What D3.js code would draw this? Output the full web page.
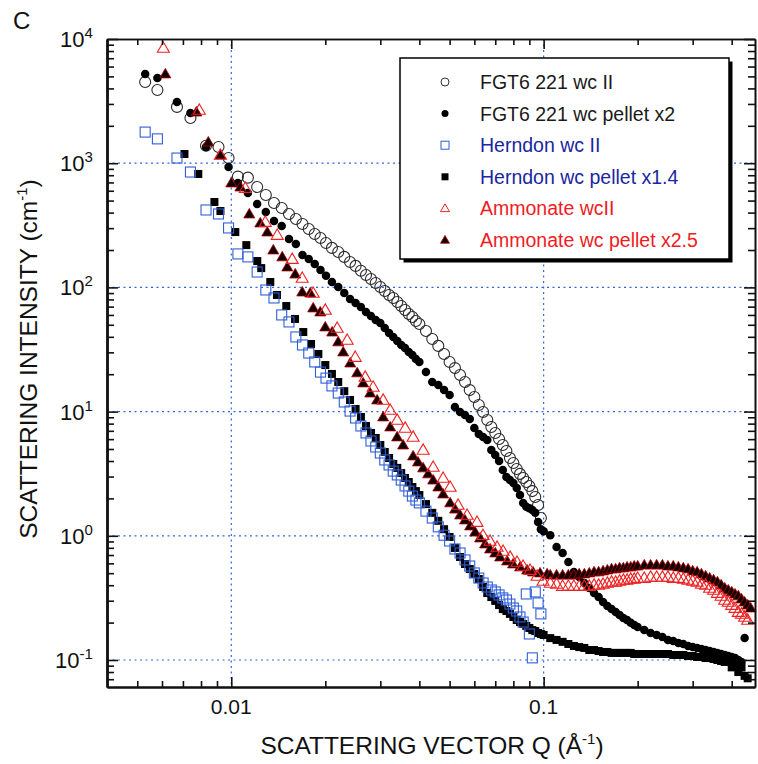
<!DOCTYPE html>
<html><head><meta charset="utf-8">
<script src="https://cdn.jsdelivr.net/npm/d3@7"></script>
<style>body{margin:0;background:#fff}svg{display:block}</style>
</head><body>
<svg id="chart" width="758" height="764"></svg>
<script>
// ---- DATA: [Q (1/Å), intensity (1/cm)] ----
const fgtWcII = [[0.0053,4500],[0.0058,3890],[0.0067,2840],[0.0074,2310],[0.0083,1380],[0.0091,1350],[0.0098,1100],[0.0105,780],[0.0113,765],[0.0121,643],[0.0129,555],[0.0137,478],[0.0145,436],[0.0153,390],[0.0161,355],[0.0169,324],[0.0177,295],[0.0185,269],[0.0193,250],[0.0201,228],[0.021,208],[0.022,193],[0.023,176],[0.024,160],[0.025,149],[0.026,136],[0.027,126],[0.028,117],[0.029,108.5],[0.030,100.7],[0.031,93.5],[0.032,86.9],[0.033,82.2],[0.034,76.3],[0.035,70.8],[0.036,65.8],[0.037,61.1],[0.038,57.8],[0.039,53.6],[0.040,50.7],[0.042,44.6],[0.044,38.4],[0.046,33.8],[0.048,29.1],[0.050,25.1],[0.052,22.4],[0.054,19.7],[0.056,17.3],[0.058,14.9],[0.060,13.1],[0.062,11.3],[0.064,9.93],[0.066,8.56],[0.068,7.52],[0.070,6.73],[0.072,6.02],[0.074,5.38],[0.076,4.82],[0.078,4.23],[0.080,3.86],[0.082,3.45],[0.084,3.15],[0.086,2.92],[0.088,2.71],[0.090,2.52],[0.092,2.29],[0.094,2.05],[0.096,1.77],[0.098,1.39]];

const fgtPellet = [[0.0053,5230],[0.0058,4850],[0.0067,3110],[0.0074,2540],[0.0083,1350],[0.0098,932],[0.0105,693],[0.0113,576],[0.0121,469],[0.0129,405],[0.0137,342],[0.0145,312],[0.0153,245],[0.0161,224],[0.0169,182],[0.0177,169],[0.0185,154],[0.0193,138],[0.0201,124],[0.021,110.5],[0.022,100.7],[0.023,90.1],[0.024,80.6],[0.025,74.9],[0.026,69.5],[0.027,63.4],[0.028,58.8],[0.029,54.6],[0.030,51.7],[0.031,47.1],[0.032,42.9],[0.033,39.9],[0.034,37.0],[0.035,34.4],[0.036,32.5],[0.037,30.2],[0.038,28.6],[0.039,26.5],[0.040,25.1],[0.042,20.8],[0.044,17.3],[0.046,16.4],[0.048,14.9],[0.050,13.6],[0.052,10.9],[0.054,9.93],[0.056,9.39],[0.058,8.72],[0.060,7.38],[0.062,6.60],[0.064,6.25],[0.066,5.91],[0.068,4.91],[0.070,4.47],[0.072,4.00],[0.074,3.39],[0.076,2.97],[0.078,2.81],[0.080,2.66],[0.082,2.43],[0.084,2.13],[0.086,1.84],[0.088,1.71],[0.090,1.67],[0.092,1.61],[0.094,1.53],[0.096,1.29],[0.098,1.13],[0.100,1.09],[0.105,1.01],[0.110,0.812],[0.115,0.727],[0.120,0.615],[0.125,0.511],[0.130,0.466],[0.135,0.417],[0.140,0.380],[0.145,0.346],[0.150,0.321],[0.155,0.293],[0.160,0.272],[0.165,0.257],[0.170,0.243],[0.175,0.230],[0.180,0.218],[0.185,0.210],[0.190,0.199],[0.195,0.191],[0.200,0.184],[0.21,0.174],[0.22,0.165],[0.23,0.159],[0.24,0.153],[0.25,0.145],[0.26,0.142],[0.27,0.137],[0.28,0.1345],[0.29,0.1297],[0.30,0.1273],[0.31,0.125],[0.32,0.1227],[0.33,0.1203],[0.34,0.1181],[0.35,0.116],[0.36,0.1138],[0.37,0.1117],[0.38,0.1097],[0.39,0.1077],[0.40,0.1057],[0.41,0.1037],[0.42,0.100],[0.43,0.0964],[0.44,0.150]];

const herndonWcII = [[0.0053,1780],[0.0058,1570],[0.0067,1100],[0.0074,849],[0.0083,420],[0.0091,390],[0.0098,301],[0.0105,186],[0.0113,176],[0.0121,133],[0.0129,95.3],[0.0137,82.2],[0.0145,60.0],[0.0153,52.7],[0.0161,39.9],[0.0169,34.4],[0.0177,29.6],[0.0185,25.1],[0.0193,20.8],[0.0201,18.6],[0.021,16.1],[0.022,14.1],[0.023,11.95],[0.024,10.1],[0.025,8.88],[0.026,7.66],[0.027,6.73],[0.028,5.80],[0.029,5.19],[0.030,4.64],[0.031,4.08],[0.032,3.72],[0.033,3.32],[0.034,3.09],[0.035,2.81],[0.036,2.52],[0.037,2.29],[0.038,2.09],[0.039,1.94],[0.040,1.84],[0.042,1.58],[0.044,1.39],[0.046,1.18],[0.048,1.01],[0.050,0.908],[0.052,0.783],[0.054,0.727],[0.056,0.639],[0.058,0.571],[0.060,0.502],[0.062,0.457],[0.064,0.417],[0.066,0.387],[0.068,0.366],[0.070,0.353],[0.072,0.334],[0.074,0.316],[0.076,0.304],[0.078,0.282],[0.080,0.262],[0.082,0.248],[0.084,0.222],[0.086,0.202],[0.088,0.340],[0.090,0.162],[0.092,0.104],[0.094,0.353],[0.096,0.288],[0.098,0.235]];

const herndonPellet = [[0.00708,1186],[0.00784,819],[0.00883,487],[0.00923,412],[0.0103,279],[0.01117,219],[0.01211,163],[0.01247,143],[0.01333,110.5],[0.014,86.9],[0.015,70.8],[0.016,55.7],[0.017,43.7],[0.018,35.0],[0.019,29.1],[0.020,23.7],[0.021,20.1],[0.022,17.3],[0.023,14.6],[0.024,12.4],[0.025,10.5],[0.026,9.05],[0.027,7.66],[0.028,6.73],[0.029,6.13],[0.030,5.38],[0.031,4.73],[0.032,4.23],[0.033,3.79],[0.034,3.52],[0.035,3.20],[0.036,2.92],[0.037,2.71],[0.038,2.47],[0.039,2.29],[0.040,2.13],[0.042,1.80],[0.044,1.53],[0.046,1.32],[0.048,1.13],[0.050,0.978],[0.052,0.798],[0.054,0.675],[0.056,0.593],[0.058,0.540],[0.060,0.493],[0.062,0.449],[0.064,0.387],[0.066,0.346],[0.068,0.321],[0.070,0.299],[0.072,0.277],[0.074,0.257],[0.076,0.248],[0.078,0.235],[0.080,0.222],[0.082,0.210],[0.084,0.202],[0.086,0.195],[0.088,0.188],[0.090,0.181],[0.092,0.174],[0.094,0.171],[0.096,0.165],[0.098,0.162],[0.100,0.159],[0.105,0.150],[0.110,0.145],[0.115,0.140],[0.120,0.1345],[0.125,0.1297],[0.130,0.127],[0.135,0.125],[0.140,0.1203],[0.145,0.1203],[0.150,0.118],[0.155,0.116],[0.160,0.116],[0.165,0.114],[0.170,0.114],[0.175,0.114],[0.180,0.114],[0.185,0.114],[0.190,0.114],[0.195,0.1117],[0.200,0.1117],[0.21,0.1117],[0.22,0.1117],[0.23,0.1117],[0.24,0.1117],[0.25,0.1117],[0.26,0.1097],[0.27,0.1097],[0.28,0.1097],[0.29,0.1077],[0.30,0.1077],[0.31,0.1057],[0.32,0.1057],[0.33,0.1037],[0.34,0.1037],[0.35,0.1019],[0.36,0.100],[0.37,0.0982],[0.38,0.0964],[0.39,0.0985],[0.40,0.0872],[0.41,0.0925],[0.42,0.0800],[0.43,0.0870],[0.44,0.0745],[0.45,0.0712]];

const ammonateWcII = [[0.00606,8460],[0.0079,2681],[0.00923,1164],[0.01109,631],[0.01285,336],[0.01403,264],[0.01567,169],[0.01687,119],[0.01829,90.1],[0.01999,65.8],[0.02183,47.1],[0.0235,37.7],[0.02493,27.5],[0.02683,19.0],[0.02845,15.8],[0.03063,12.4],[0.03226,10.3],[0.03396,8.56],[0.03603,7.38],[0.0382,6.25],[0.04113,4.91],[0.04429,3.58],[0.04767,2.92],[0.0502,2.47],[0.05322,1.77],[0.05689,1.47],[0.06119,1.29],[0.06397,1.01],[0.06736,0.908],[0.07095,0.812],[0.07415,0.754],[0.0781,0.675],[0.08221,0.615],[0.08593,0.571],[0.09048,0.530],[0.09527,0.475],[0.09955,0.433],[0.105,0.417],[0.110,0.409],[0.115,0.394],[0.120,0.394],[0.125,0.394],[0.130,0.394],[0.135,0.394],[0.140,0.394],[0.145,0.402],[0.150,0.402],[0.155,0.409],[0.160,0.417],[0.165,0.425],[0.170,0.425],[0.175,0.433],[0.180,0.441],[0.185,0.441],[0.190,0.449],[0.195,0.449],[0.200,0.457],[0.21,0.457],[0.22,0.466],[0.23,0.466],[0.24,0.466],[0.25,0.466],[0.26,0.457],[0.27,0.457],[0.28,0.449],[0.29,0.441],[0.30,0.433],[0.31,0.425],[0.32,0.409],[0.33,0.402],[0.34,0.380],[0.35,0.366],[0.36,0.346],[0.37,0.328],[0.38,0.304],[0.39,0.293],[0.40,0.277],[0.41,0.262],[0.42,0.243],[0.43,0.235],[0.44,0.222],[0.45,0.210]];

const ammonatePellet = [[0.00615,5230],[0.00773,2580],[0.00844,1480],[0.00923,1164],[0.0100,693],[0.01069,643],[0.01142,390],[0.01238,330],[0.01304,279],[0.01363,200],[0.01456,176],[0.01511,146],[0.01602,128],[0.01687,91.8],[0.01789,90.1],[0.01829,68.3],[0.01927,63.4],[0.01999,48.0],[0.02104,43.7],[0.02199,36.4],[0.02282,30.2],[0.02403,24.6],[0.0253,20.5],[0.02644,17.0],[0.02784,14.1],[0.02931,12.4],[0.03063,9.05],[0.03226,7.52],[0.03396,6.25],[0.03549,5.38],[0.0382,4.39],[0.0396,3.93],[0.04113,3.52],[0.04268,3.15],[0.04429,2.81],[0.0460,2.47],[0.04767,2.17],[0.0502,1.84],[0.05205,1.64],[0.05402,1.47],[0.05601,1.34],[0.05816,1.20],[0.06034,1.07],[0.06258,0.960],[0.06494,0.859],[0.06736,0.783],[0.0700,0.727],[0.07253,0.675],[0.07638,0.627],[0.0798,0.593],[0.08404,0.561],[0.08851,0.530],[0.0925,0.511],[0.09739,0.502],[0.1026,0.493],[0.105,0.483],[0.110,0.483],[0.115,0.483],[0.120,0.483],[0.125,0.483],[0.130,0.493],[0.135,0.493],[0.140,0.502],[0.145,0.512],[0.150,0.512],[0.155,0.521],[0.160,0.530],[0.165,0.541],[0.170,0.541],[0.175,0.551],[0.180,0.551],[0.185,0.561],[0.190,0.561],[0.195,0.571],[0.200,0.571],[0.21,0.582],[0.22,0.582],[0.23,0.582],[0.24,0.582],[0.25,0.571],[0.26,0.571],[0.27,0.561],[0.28,0.551],[0.29,0.541],[0.30,0.521],[0.31,0.512],[0.32,0.493],[0.33,0.475],[0.34,0.457],[0.35,0.441],[0.36,0.425],[0.37,0.402],[0.38,0.380],[0.39,0.366],[0.40,0.353],[0.41,0.340],[0.42,0.328],[0.43,0.310],[0.44,0.293],[0.45,0.277],[0.46,0.262]];

const legendLabels = ["FGT6 221 wc II","FGT6 221 wc pellet x2","Herndon wc II","Herndon wc pellet x1.4","Ammonate wcII","Ammonate wc pellet x2.5"];
const xMajorTicks = [0.01, 0.1];
const xTickLabels = ["0.01", "0.1"];
const yMajorTicks = [0.1, 1, 10, 100, 1000, 10000];
const yTickExponents = ["-1", "0", "1", "2", "3", "4"];
const xTitle = "SCATTERING VECTOR Q (Å";
const yTitle = "SCATTERING INTENSITY (cm";
const panelLabel = "C";

// ---- LAYOUT ----
const FONT = "'Liberation Sans', Arial, Helvetica, sans-serif";
const L = 107, R = 755, T = 39, B = 687;
const svg = d3.select("#chart");
const x = d3.scaleLog().domain([0.004, 0.475]).range([L, R]);
const y = d3.scaleLog().domain([0.0606, 10000]).range([B, T]);

const xMinor = [];
[0.001, 0.01, 0.1].forEach(d => { for (let k = 2; k <= 9; k++) { const v = d * k; if (v > 0.004 && v < 0.475 && Math.abs(v - 0.01) > 1e-9 && Math.abs(v - 0.1) > 1e-9) xMinor.push(v); } });
const yMinor = [];
[0.01, 0.1, 1, 10, 100, 1000].forEach(d => { for (let k = 2; k <= 9; k++) { const v = d * k; if (v > 0.0606 && v < 10000) yMinor.push(v); } });

// grid
const gridColor = "#2f66e0";
const grid = svg.append("g").attr("stroke", gridColor).attr("stroke-width", 1.2).attr("stroke-dasharray", "2,3.5");
xMajorTicks.forEach(v => grid.append("line").attr("x1", x(v)).attr("x2", x(v)).attr("y1", T).attr("y2", B));
yMajorTicks.filter(v => v < 10000).forEach(v => grid.append("line").attr("x1", L).attr("x2", R).attr("y1", y(v)).attr("y2", y(v)));

// markers
const triPath = (s) => d3.symbol().type(d3.symbolTriangle).size(s * s * Math.sqrt(3) / 4)();
function drawMarker(g, cx, cy, shape, sz, fill, stroke, sw) {
  if (shape === "circle") {
    g.append("circle").attr("cx", cx).attr("cy", cy).attr("r", sz / 2).attr("fill", fill).attr("stroke", stroke).attr("stroke-width", sw);
  } else if (shape === "square") {
    g.append("rect").attr("x", cx - sz / 2).attr("y", cy - sz / 2).attr("width", sz).attr("height", sz).attr("fill", fill).attr("stroke", stroke).attr("stroke-width", sw);
  } else {
    g.append("path").attr("d", triPath(sz)).attr("transform", `translate(${cx},${cy + sz * 0.07})`).attr("fill", fill).attr("stroke", stroke).attr("stroke-width", sw);
  }
}

const series = [
  { data: fgtWcII, shape: "circle", size: 11, fill: "none", stroke: "#2b2b2b", sw: 1.1 },
  { data: fgtPellet, shape: "circle", size: 8.5, fill: "#000", stroke: "none", sw: 0 },
  { data: herndonPellet, shape: "square", size: 8, fill: "#000", stroke: "none", sw: 0 },
  { data: herndonWcII, shape: "square", size: 10, fill: "none", stroke: "#2f5fd8", sw: 1.1 },
  { data: ammonatePellet, shape: "triangle", size: 11, fill: "#140000", stroke: "#b00000", sw: 0.8 },
  { data: ammonateWcII, shape: "triangle", size: 12, fill: "none", stroke: "#ee2222", sw: 1.1 }
];
const plot = svg.append("g");
series.forEach(s => {
  const g = plot.append("g");
  s.data.forEach(d => drawMarker(g, x(d[0]), y(d[1]), s.shape, s.size, s.fill, s.stroke, s.sw));
});

// axes (ticks pointing inward)
function addAxis(axisFn, scale, vals, size, transform, sw) {
  const a = axisFn(scale).tickValues(vals).tickSizeInner(size).tickSizeOuter(0).tickFormat("");
  const g = svg.append("g").attr("transform", transform).call(a);
  g.select(".domain").attr("stroke", "#111").attr("stroke-width", sw);
  g.selectAll(".tick line").attr("stroke", "#111").attr("stroke-width", 1.6);
  return g;
}
addAxis(d3.axisBottom, x, xMajorTicks, -10, `translate(0,${B})`, 2.2);
addAxis(d3.axisBottom, x, xMinor, -6, `translate(0,${B})`, 2.2);
addAxis(d3.axisTop, x, xMajorTicks, -10, `translate(0,${T})`, 1.6);
addAxis(d3.axisTop, x, xMinor, -6, `translate(0,${T})`, 1.6);
addAxis(d3.axisLeft, y, yMajorTicks, -11, `translate(${L},0)`, 2.4);
addAxis(d3.axisLeft, y, yMinor, -7, `translate(${L},0)`, 2.4);
addAxis(d3.axisRight, y, yMajorTicks, -11, `translate(${R},0)`, 1.6);
addAxis(d3.axisRight, y, yMinor, -7, `translate(${R},0)`, 1.6);

// tick labels
xMajorTicks.forEach((v, i) => svg.append("text").attr("x", x(v)).attr("y", 714).attr("text-anchor", "middle")
  .attr("font-family", FONT).attr("font-size", 21).attr("fill", "#111").text(xTickLabels[i]));
yMajorTicks.forEach((v, i) => {
  const t = svg.append("text").attr("x", yTickExponents[i] === "-1" ? 55 : 60).attr("y", y(v) + 8)
    .attr("font-family", FONT).attr("font-size", 22).attr("fill", "#111");
  t.append("tspan").text("10");
  t.append("tspan").attr("dy", -9).attr("font-size", 15).text(yTickExponents[i]);
});

// axis titles
const xt = svg.append("text").attr("x", 432).attr("y", 754).attr("text-anchor", "middle")
  .attr("font-family", FONT).attr("font-size", 24.5).attr("fill", "#111");
xt.append("tspan").text(xTitle);
xt.append("tspan").attr("dy", -10).attr("font-size", 15).text("-1");
xt.append("tspan").attr("dy", 10).text(")");

const yt = svg.append("text").attr("transform", "translate(37,359) rotate(-90)").attr("text-anchor", "middle")
  .attr("font-family", FONT).attr("font-size", 24.5).attr("fill", "#111");
yt.append("tspan").text(yTitle);
yt.append("tspan").attr("dy", -10).attr("font-size", 15).text("-1");
yt.append("tspan").attr("dy", 10).text(")");

svg.append("text").attr("x", 13).attr("y", 29).attr("font-family", FONT).attr("font-size", 24).attr("fill", "#111").text(panelLabel);

// legend
const lx = 400, ly = 58, lw = 329, lh = 201;
svg.append("rect").attr("x", lx + 3.5).attr("y", ly + 3.5).attr("width", lw).attr("height", lh).attr("fill", "#000");
svg.append("rect").attr("x", lx).attr("y", ly).attr("width", lw).attr("height", lh).attr("fill", "#fff").attr("stroke", "#000").attr("stroke-width", 1.5);
const legendColors = ["#1a1a1a", "#1a1a1a", "#1a26a0", "#1a26a0", "#ee1c24", "#ee1c24"];
const legendMarkers = [
  { shape: "circle", size: 8, fill: "none", stroke: "#333", sw: 1 },
  { shape: "circle", size: 7, fill: "#000", stroke: "none", sw: 0 },
  { shape: "square", size: 8, fill: "none", stroke: "#2f5fd8", sw: 1 },
  { shape: "square", size: 7, fill: "#000", stroke: "none", sw: 0 },
  { shape: "triangle", size: 9, fill: "none", stroke: "#ee2222", sw: 1 },
  { shape: "triangle", size: 9, fill: "#140000", stroke: "#b00000", sw: 0.8 }
];
const lg = svg.append("g");
legendLabels.forEach((lab, i) => {
  const cy = 82 + i * 31.6;
  const m = legendMarkers[i];
  drawMarker(lg, 445, cy, m.shape, m.size, m.fill, m.stroke, m.sw);
  lg.append("text").attr("x", 480).attr("y", cy + 7).attr("font-family", FONT).attr("font-size", 19.5)
    .attr("fill", legendColors[i]).text(lab);
});
</script>
</body></html>
